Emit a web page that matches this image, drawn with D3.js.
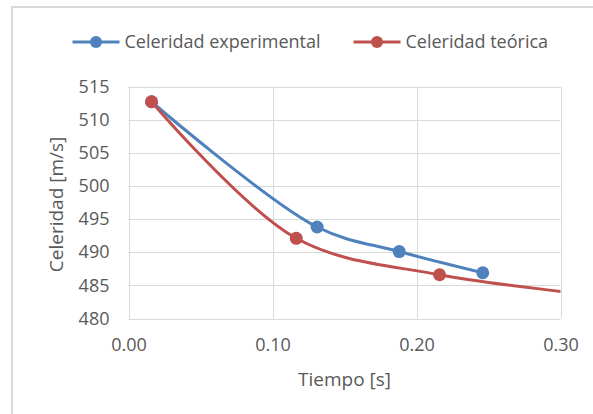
<!DOCTYPE html>
<html><head><meta charset="utf-8">
<script src="https://cdn.jsdelivr.net/npm/d3@7"></script>
<style>
html,body{margin:0;padding:0;background:#fff;}
svg{display:block;font-family:"Open Sans",sans-serif;}
</style></head>
<body>
<script>
const seriesNames = ["Celeridad experimental", "Celeridad teórica"];
const seriesColors = ["#4F81BD", "#C0504D"];
const expTime = [0.016, 0.131, 0.188, 0.246];
const expSpeed = [512.7, 493.8, 490.1, 486.9];
const teoTime = [0.016, 0.1165, 0.216, 0.33];
const teoSpeed = [512.7, 492.1, 486.6, 483.4];
const xTicks = [0.00, 0.10, 0.20, 0.30];
const yTicks = [480, 485, 490, 495, 500, 505, 510, 515];
const xTitle = "Tiempo [s]";
const yTitle = "Celeridad [m/s]";

const W = 593, H = 414;
const svg = d3.select("body").append("svg").attr("width", W).attr("height", H);

// chart border
svg.append("rect").attr("x", 12).attr("y", 7).attr("width", 700).attr("height", 500)
  .attr("fill", "#fff").attr("stroke", "#d9d9d9").attr("stroke-width", 2);

const L = 128.5, R = 560.5, T = 86.5, B = 318.5;
const x = d3.scaleLinear().domain([0, 0.30]).range([L, R]);
const y = d3.scaleLinear().domain([480, 515]).range([B, T]);

const grid = svg.append("g");
grid.selectAll("line.h").data(yTicks).join("line")
  .attr("x1", L).attr("x2", R).attr("y1", d => Math.round(y(d)) + 0.5).attr("y2", d => Math.round(y(d)) + 0.5)
  .attr("stroke", "#d9d9d9").attr("stroke-width", 1);
grid.selectAll("line.v").data(xTicks).join("line")
  .attr("y1", T).attr("y2", B).attr("x1", d => Math.round(x(d)) + 0.5).attr("x2", d => Math.round(x(d)) + 0.5)
  .attr("stroke", "#d9d9d9").attr("stroke-width", 1);

// axes (labels only)
const xAxis = d3.axisBottom(x).tickValues(xTicks).tickFormat(d3.format(".2f")).tickSize(0).tickPadding(20);
const yAxis = d3.axisLeft(y).tickValues(yTicks).tickFormat(d3.format("d")).tickSize(0).tickPadding(19);
const gx = svg.append("g").attr("transform", `translate(0,${B})`).call(xAxis);
const gy = svg.append("g").attr("transform", `translate(${L},0)`).call(yAxis);
[gx, gy].forEach(g => {
  g.select(".domain").remove();
  g.selectAll("text").attr("fill", "#595959").style("font-size", "18px").style("font-family", "'Open Sans'");
});

svg.append("text").attr("x", (L + R) / 2).attr("y", 386).attr("text-anchor", "middle")
  .attr("fill", "#595959").style("font-size", "19px").text(xTitle);
svg.append("text").attr("transform", `translate(63,${(T + B) / 2 + 2}) rotate(-90)`).attr("text-anchor", "middle")
  .attr("fill", "#595959").style("font-size", "19px").text(yTitle);

svg.append("clipPath").attr("id", "plotclip").append("rect")
  .attr("x", L).attr("y", T - 10).attr("width", R - L).attr("height", B - T + 10);

const series = [
  {name: seriesNames[0], color: seriesColors[0], pts: expTime.map((t, i) => [t, expSpeed[i]])},
  {name: seriesNames[1], color: seriesColors[1], pts: teoTime.map((t, i) => [t, teoSpeed[i]])}
];
const line = d3.line().x(d => x(d[0])).y(d => y(d[1])).curve(d3.curveCatmullRom.alpha(0.5));

const plot = svg.append("g").attr("clip-path", "url(#plotclip)");
series.forEach(s => {
  plot.append("path").datum(s.pts).attr("d", line).attr("fill", "none")
    .attr("stroke", s.color).attr("stroke-width", 3).attr("stroke-linecap", "round");
});
series.forEach(s => {
  svg.append("g").selectAll("circle").data(s.pts.filter(d => d[0] <= 0.30)).join("circle")
    .attr("cx", d => x(d[0])).attr("cy", d => y(d[1])).attr("r", 6.5).attr("fill", s.color);
});

// legend
const legX = [72.5, 353.5];
series.forEach((s, i) => {
  const g = svg.append("g").attr("transform", `translate(${legX[i]},42)`);
  g.append("line").attr("x1", 0).attr("x2", 47).attr("y1", 0).attr("y2", 0)
    .attr("stroke", s.color).attr("stroke-width", 3);
  g.append("circle").attr("cx", 23.5).attr("cy", 0).attr("r", 6).attr("fill", s.color);
  g.append("text").attr("x", 52).attr("y", 0).attr("dy", "0.35em")
    .attr("fill", "#595959").style("font-size", "18px").text(s.name);
});
</script>
</body></html>
